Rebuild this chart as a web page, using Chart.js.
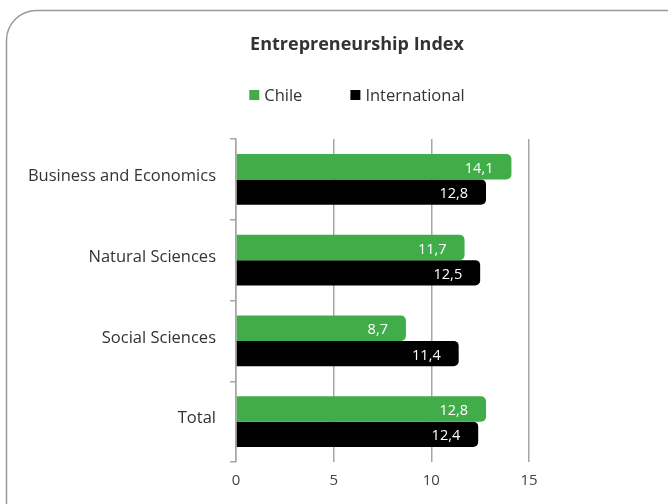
<!DOCTYPE html>
<html>
<head>
  <title>Entrepreneurship Index</title>
  <script src="https://cdn.jsdelivr.net/npm/chart.js"></script>
  <style>
    body { margin: 0; background: #fff; }
    #wrap { width: 668px; height: 504px; }
  </style>
</head>
<body>
  <div id="wrap"><canvas id="indexChart" width="668" height="504"></canvas></div>

  <script>
    const categories = ['Business and Economics', 'Natural Sciences', 'Social Sciences', 'Total'];
    const chileValues = [14.1, 11.7, 8.7, 12.8];
    const internationalValues = [12.8, 12.5, 11.4, 12.4];
    const xTicks = [0, 5, 10, 15];
    const titleText = 'Entrepreneurship Index';

    const green = '#41ad49';
    const gridGray = '#a6a6a6';
    const fontFamily = "'Open Sans', sans-serif";
    const headerCenter = 357;

    // rounded frame behind the chart
    const framePlugin = {
      id: 'frame',
      beforeDraw(chart) {
        const ctx = chart.ctx;
        ctx.save();
        ctx.strokeStyle = '#9a9a9a';
        ctx.lineWidth = 1.5;
        ctx.beginPath();
        ctx.roundRect(6.5, 10.5, 720, 540, 30);
        ctx.stroke();
        ctx.restore();
      }
    };

    // title and legend drawn by hand so they sit where the original has them
    const headerPlugin = {
      id: 'header',
      afterDraw(chart) {
        const ctx = chart.ctx;
        ctx.save();
        ctx.textBaseline = 'middle';
        ctx.textAlign = 'center';
        ctx.fillStyle = '#333';
        ctx.font = 'bold 18px ' + fontFamily;
        ctx.fillText(titleText, headerCenter, 45);

        ctx.textAlign = 'left';
        ctx.font = '16.5px ' + fontFamily;
        const gap = 48, box = 10, y = 95;
        const items = chart.data.datasets.map(ds => ({ text: ds.label, color: ds.backgroundColor }));
        let total = 0;
        items.forEach((it, i) => {
          it.w = box + 5 + ctx.measureText(it.text).width;
          total += it.w + (i ? gap : 0);
        });
        let x = headerCenter - total / 2;
        items.forEach(it => {
          ctx.fillStyle = it.color;
          ctx.fillRect(x, y - 5, box, box);
          ctx.fillStyle = '#333';
          ctx.fillText(it.text, x + box + 5, y + 1);
          x += it.w + gap;
        });
        ctx.restore();
      }
    };

    // value labels inside the bar ends
    const valueLabels = {
      id: 'valueLabels',
      afterDatasetsDraw(chart) {
        const ctx = chart.ctx;
        ctx.save();
        ctx.font = '14.5px ' + fontFamily;
        ctx.fillStyle = '#fff';
        ctx.textAlign = 'right';
        ctx.textBaseline = 'middle';
        chart.data.datasets.forEach((ds, i) => {
          chart.getDatasetMeta(i).data.forEach((bar, j) => {
            const txt = ds.data[j].toFixed(1).replace('.', ',');
            ctx.fillText(txt, bar.x - 18, bar.y + 2);
          });
        });
        ctx.restore();
      }
    };

    const ctx = document.getElementById('indexChart').getContext('2d');
    new Chart(ctx, {
      type: 'bar',
      data: {
        labels: categories,
        datasets: [{
          label: 'Chile',
          data: chileValues,
          backgroundColor: green
        }, {
          label: 'International',
          data: internationalValues,
          backgroundColor: '#000'
        }]
      },
      options: {
        indexAxis: 'y',
        responsive: false,
        animation: false,
        borderRadius: 5,
        borderSkipped: 'start',
        categoryPercentage: 0.63,
        barPercentage: 1,
        layout: { padding: { left: 0, right: 139, top: 139, bottom: 0 } },
        plugins: {
          legend: { display: false },
          tooltip: { enabled: false },
          title: { display: false }
        },
        scales: {
          x: {
            min: 0,
            max: 15,
            afterBuildTicks: scale => { scale.ticks = xTicks.map(v => ({ value: v })); },
            afterFit: scale => { scale.height = 42; },
            grid: { color: gridGray, lineWidth: 1.5, tickLength: 0 },
            border: { display: false },
            ticks: { color: '#444', padding: 10, font: { family: fontFamily, size: 15 } }
          },
          y: {
            afterFit: scale => { scale.width = 236; },
            grid: { drawOnChartArea: false, color: gridGray, lineWidth: 1.5, tickLength: 6 },
            border: { color: gridGray, width: 1.5 },
            ticks: { color: '#333', padding: 14, labelOffset: -3, font: { family: fontFamily, size: 16.5 } }
          }
        }
      },
      plugins: [framePlugin, headerPlugin, valueLabels]
    });
  </script>
</body>
</html>
